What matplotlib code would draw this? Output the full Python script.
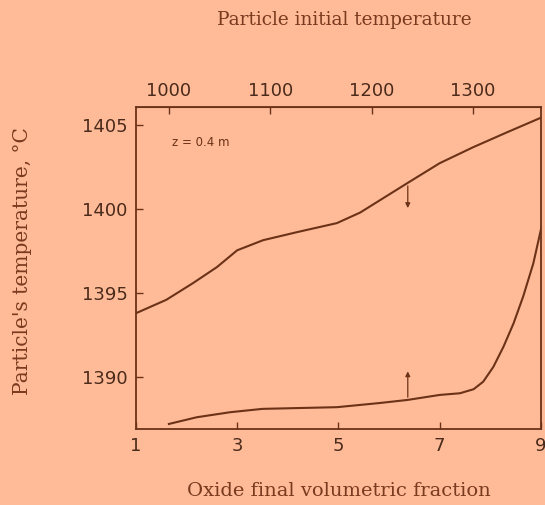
import matplotlib
matplotlib.use("Agg")
import matplotlib.pyplot as plt

# upper curve (particle temperature vs oxide fraction)
upper_x = [1.0, 1.6, 2.13, 2.60, 3.0, 3.51, 4.18, 4.97, 5.43, 6.36, 7.0, 7.66, 8.33, 9.0]
upper_y = [1393.8, 1394.6, 1395.6, 1396.55, 1397.55, 1398.15, 1398.63, 1399.17, 1399.8, 1401.55, 1402.74, 1403.69, 1404.58, 1405.45]

# lower curve
lower_x = [1.65, 2.2, 2.86, 3.5, 4.97, 5.82, 6.36, 7.0, 7.40, 7.67, 7.86, 8.06, 8.26, 8.46, 8.65, 8.85, 9.02]
lower_y = [1387.2, 1387.6, 1387.9, 1388.1, 1388.2, 1388.45, 1388.63, 1388.93, 1389.03, 1389.27, 1389.72, 1390.6, 1391.8, 1393.2, 1394.8, 1396.77, 1399.05]

xticks = [1, 3, 5, 7, 9]
yticks = [1390, 1395, 1400, 1405]
top_ticks = [1000, 1100, 1200, 1300]

bg = "#ffbb98"
ink = "#6b3218"
txt = "#7a3a1e"

fig = plt.figure(figsize=(5.45, 5.05), dpi=100, facecolor=bg)
ax = fig.add_axes([0.2495, 0.1505, 0.743, 0.638])
ax.set_facecolor(bg)

ax.plot(upper_x, upper_y, color=ink, lw=1.5, solid_joinstyle="round")
ax.plot(lower_x, lower_y, color=ink, lw=1.5, solid_joinstyle="round")

# arrows
ax.annotate("", xy=(6.37, 1399.9), xytext=(6.37, 1401.55),
            arrowprops=dict(arrowstyle="-|>", color=ink, lw=0.9, mutation_scale=7))
ax.annotate("", xy=(6.37, 1390.5), xytext=(6.37, 1388.63),
            arrowprops=dict(arrowstyle="-|>", color=ink, lw=0.9, mutation_scale=7))

ax.text(1.71, 1404.0, "z = 0.4 m", fontsize=8.5, color=ink, va="center")

ax.set_xlim(1, 9)
ax.set_ylim(1386.9, 1406.1)
ax.set_xticks(xticks)
ax.set_yticks(yticks)
ax.tick_params(direction="in", length=5, width=1, colors=ink, labelcolor="#4a2a1a",
               labelsize=13, pad=6)
for s in ax.spines.values():
    s.set_color(ink)
    s.set_linewidth(1.3)

sec = ax.secondary_xaxis("top", functions=(lambda x: 967.5 + 49.94 * (x - 1),
                                           lambda t: 1 + (t - 967.5) / 49.94))
sec.set_xticks(top_ticks)
sec.tick_params(direction="in", length=5, width=1, colors=ink, labelcolor="#4a2a1a",
                labelsize=13, pad=5)
sec.spines["top"].set_color(ink)

fig.text(0.632, 0.96, "Particle initial temperature", fontsize=13.3, family="DejaVu Serif",
         color=txt, ha="center", va="center")
fig.text(0.621, 0.027, "Oxide final volumetric fraction", fontsize=14, family="DejaVu Serif",
         color=txt, ha="center", va="center")
fig.text(0.041, 0.483, "Particle's temperature, \u00b0C", fontsize=14.5, family="DejaVu Serif",
         color=txt, ha="center", va="center", rotation=90)

fig.savefig("out.png", dpi=100, facecolor=bg)
